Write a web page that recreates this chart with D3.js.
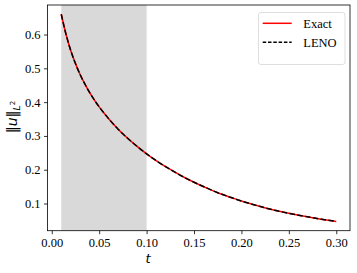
<!DOCTYPE html>
<html><head><meta charset="utf-8">
<script src="https://cdn.jsdelivr.net/npm/d3@7"></script>
<style>body{margin:0;background:#fff}svg{display:block}</style>
</head><body>
<script>
const tVals = [0.01,0.015,0.02,0.025,0.03,0.035,0.04,0.045,0.05,0.06,0.07,0.08,0.09,0.10,0.11,0.125,0.14,0.15,0.165,0.175,0.19,0.20,0.21,0.22,0.235,0.25,0.265,0.275,0.29,0.30];
const exactVals = [0.660,0.601,0.553,0.514,0.481,0.453,0.428,0.406,0.386,0.351,0.320,0.293,0.269,0.247,0.227,0.201,0.177,0.163,0.144,0.132,0.117,0.1075,0.099,0.091,0.080,0.071,0.063,0.058,0.051,0.047];
const lenoVals = exactVals.slice();
const xTicks = [0.00,0.05,0.10,0.15,0.20,0.25,0.30];
const yTicks = [0.1,0.2,0.3,0.4,0.5,0.6];
const shade = [0.01,0.10];
const seriesNames = ["Exact","LENO"];

const W=357,H=273, L=47.5, R=350, T=5, B=230.7;
const svg=d3.select("body").append("svg").attr("width",W).attr("height",H);
const x=d3.scaleLinear().domain([-0.0045,0.3145]).range([L,R]);
const y=d3.scaleLinear().domain([0.0196,0.6874]).range([B,T]);
const font="'Liberation Serif','Times New Roman',serif";

svg.append("rect").attr("x",x(shade[0])).attr("y",T).attr("width",x(shade[1])-x(shade[0])).attr("height",B-T).attr("fill","#d9d9d9");

const line=d3.line().x((d,i)=>x(tVals[i])).y(d=>y(d)).curve(d3.curveMonotoneX);
svg.append("path").datum(exactVals).attr("d",line).attr("fill","none").attr("stroke","#ff0000").attr("stroke-width",1.5);
svg.append("path").datum(lenoVals).attr("d",line).attr("fill","none").attr("stroke","#000").attr("stroke-width",1.5).attr("stroke-dasharray","5.5,2.4");

const xa=svg.append("g").attr("transform",`translate(0,${B})`).call(d3.axisBottom(x).tickValues(xTicks).tickFormat(d3.format(".2f")).tickSize(3.5).tickPadding(3.5));
const ya=svg.append("g").attr("transform",`translate(${L},0)`).call(d3.axisLeft(y).tickValues(yTicks).tickFormat(d3.format(".1f")).tickSize(3.5).tickPadding(3.5));
[xa,ya].forEach(a=>{a.select(".domain").remove();a.selectAll("line").attr("stroke","#000").attr("stroke-width",0.8);a.selectAll("text").attr("font-family",font).attr("font-size",12.5).attr("fill","#000");});

svg.append("rect").attr("x",L).attr("y",T).attr("width",R-L).attr("height",B-T).attr("fill","none").attr("stroke","#000").attr("stroke-width",0.8);

svg.append("text").attr("x",148).attr("y",263).attr("text-anchor","middle").attr("font-family","'DejaVu Sans',sans-serif").attr("font-style","italic").attr("font-size",13).text("t");

const yl=svg.append("text").attr("transform","translate(17,117) rotate(-90)").attr("text-anchor","middle").attr("font-family","'DejaVu Sans',sans-serif").attr("font-size",14);
yl.append("tspan").text("‖");
yl.append("tspan").attr("font-style","italic").text("u");
yl.append("tspan").text("‖");
yl.append("tspan").attr("font-style","italic").attr("font-size",9.5).attr("dy",3).text("L");
yl.append("tspan").attr("font-size",7).attr("dy",-5).text("2");

const lg=svg.append("g");
lg.append("rect").attr("x",258.5).attr("y",12.5).attr("width",86.5).attr("height",52).attr("rx",2.5).attr("fill","#fff").attr("fill-opacity",0.8).attr("stroke","#d6d6d6").attr("stroke-width",0.8);
const ly=[23.3,42.3];
const styles=[{c:"#ff0000",d:null},{c:"#000",d:"3.5,1.8"}];
seriesNames.forEach((n,i)=>{
  lg.append("line").attr("x1",262.7).attr("x2",291.7).attr("y1",ly[i]).attr("y2",ly[i]).attr("stroke",styles[i].c).attr("stroke-width",1.5).attr("stroke-dasharray",styles[i].d);
  lg.append("text").attr("x",303.3).attr("y",ly[i]+4.3).attr("font-family",font).attr("font-size",12.5).text(n);
});
</script>
</body></html>
